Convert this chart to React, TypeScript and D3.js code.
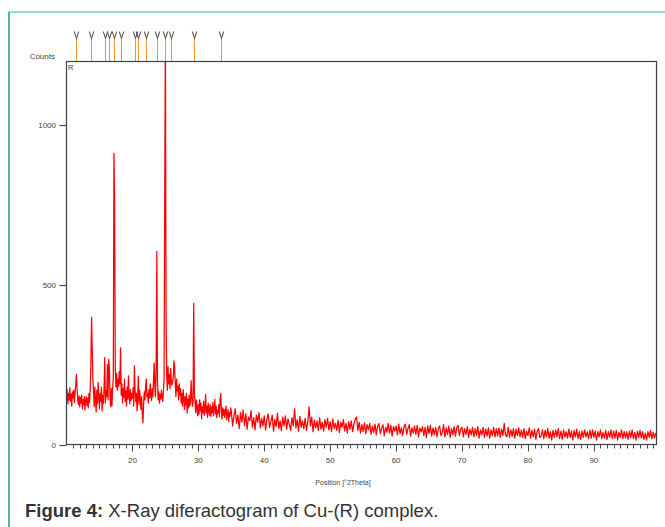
import React from 'react';
import * as d3 from 'd3';

const W = 665;
const H = 527;

// Scan segment A: 10.0° .. 34.9°, step 0.1°
const SEG_A_START = 10.0;
const SEG_A_STEP = 0.1;
const SEG_A_COUNTS = [
  150, 172, 128, 160, 140, 178, 135, 158, 120, 165,
  145, 170, 132, 160, 188, 220, 176, 140, 125, 152,
  118, 148, 130, 155, 112, 140, 125, 150, 108, 138,
  150, 122, 145, 115, 160, 132, 175, 250, 398, 300,
  210, 165, 118, 180, 140, 102, 170, 128, 195, 150,
  112, 160, 135, 180, 105, 155, 128, 175, 272, 130,
  168, 150, 250, 140, 267, 240, 150, 118, 175, 122,
  175, 210, 912, 762, 235, 180, 222, 170, 205, 182,
  228, 190, 303, 155, 190, 130, 175, 148, 205, 135,
  168, 120, 180, 142, 215, 150, 128, 172, 138, 160,
  145, 178, 120, 246, 170, 135, 160, 105, 150, 214,
  125, 170, 140, 110, 150, 95, 68, 128, 165, 140,
  180, 205, 150, 160, 130, 172, 145, 190, 155, 138,
  175, 150, 200, 256, 180, 150, 240, 605, 200, 140,
  165, 130, 158, 142, 170, 150, 135, 165, 205, 780,
  1290, 420, 215, 170, 245, 190, 220, 175, 238, 200,
  185, 200, 210, 262, 245, 190, 150, 205, 168, 182,
  140, 190, 155, 175, 130, 160, 120, 172, 145, 110,
  150, 125, 160, 98, 142, 115, 155, 120, 135, 200,
  150, 120, 135, 442, 160, 130, 100, 140, 115, 90,
  125, 95, 140, 105, 130, 80, 118, 100, 135, 92,
  110, 157, 98, 120, 85, 130, 105, 92, 125, 88,
  118, 100, 132, 90, 112, 141, 96, 120, 85, 108,
  98, 125, 88, 140, 160, 105, 80, 115, 92, 110,
  85, 102, 120, 78, 96, 110, 72, 100, 88, 115,
];

// Scan segment B: 35.0° .. 99.4°, step 0.2°
const SEG_B_START = 35.0;
const SEG_B_STEP = 0.2;
const SEG_B_COUNTS = [
  104, 58, 88, 112, 66,
  92, 50, 100, 70, 108,
  60, 96, 48, 86, 74,
  106, 54, 84, 46, 92,
  70, 100, 52, 82, 58,
  90, 46, 78, 96, 54,
  72, 92, 42, 78, 56,
  98, 50, 74, 44, 86,
  58, 90, 48, 80, 64,
  44, 84, 58, 112, 52,
  78, 42, 88, 54, 74,
  50, 82, 44, 70, 118,
  58, 86, 40, 76, 52,
  74, 44, 84, 48, 70,
  42, 78, 54, 82, 46,
  72, 40, 80, 50, 66,
  44, 76, 38, 70, 54,
  78, 42, 66, 36, 72,
  48, 74, 40, 64, 80,
  86, 44, 70, 36, 62,
  40, 68, 34, 62, 46,
  66, 32, 58, 38, 64,
  30, 58, 66, 34, 52,
  62, 28, 54, 38, 66,
  36, 60, 26, 56, 42,
  58, 30, 64, 34, 52,
  28, 56, 64, 32, 50,
  62, 26, 52, 36, 58,
  32, 60, 24, 52, 40,
  56, 28, 54, 22, 58,
  34, 60, 26, 52, 30,
  54, 24, 50, 58, 28,
  36, 62, 24, 52, 32,
  58, 22, 50, 30, 56,
  26, 52, 60, 28, 48,
  54, 24, 50, 32, 56,
  22, 48, 30, 54, 24,
  50, 28, 56, 20, 46,
  30, 54, 22, 48, 26,
  52, 20, 46, 28, 54,
  24, 50, 26, 52, 22,
  48, 28, 66, 30, 24,
  54, 22, 46, 26, 50,
  20, 48, 28, 52, 24,
  46, 22, 50, 18, 42,
  28, 52, 20, 44, 24,
  48, 16, 42, 50, 22,
  26, 46, 18, 44, 24,
  50, 20, 40, 14, 44,
  22, 46, 24, 50, 18,
  42, 16, 46, 24, 40,
  20, 48, 22, 42, 14,
  44, 24, 48, 18, 40,
  16, 42, 22, 46, 24,
  40, 18, 44, 20, 46,
  22, 42, 14, 40, 24,
  46, 18, 38, 20, 44,
  16, 40, 22, 46, 18,
  42, 20, 44, 14, 38,
  22, 46, 18, 40, 20,
  40, 16, 42, 22, 46,
  18, 38, 14, 42, 22,
  44, 20, 40, 16, 36,
  14, 40, 22, 44, 18,
  38, 20, 36,
];

// Reference peak markers (°2Theta)
const MARKERS = [11.45, 13.76, 15.8, 16.41, 17.17, 18.23, 20.35, 20.89, 22.11, 23.68, 25.0, 25.8, 29.36, 33.38];

const X_DOMAIN: [number, number] = [10, 99.5];
const Y_DOMAIN: [number, number] = [0, 1200];
const X_MAJOR = [20, 30, 40, 50, 60, 70, 80, 90];
const Y_TICKS = [0, 500, 1000];

const FONT = '"Liberation Sans", Arial, Helvetica, sans-serif';

export default function App() {
  const left = 66.5;
  const right = 656.5;
  const top = 61.5;
  const bottom = 444.5;

  const x = d3.scaleLinear().domain(X_DOMAIN).range([left, right]);
  const y = d3.scaleLinear().domain(Y_DOMAIN).range([bottom, top]);

  const data: [number, number][] = [
    ...SEG_A_COUNTS.map((c, i) => [SEG_A_START + i * SEG_A_STEP, c] as [number, number]),
    ...SEG_B_COUNTS.map((c, i) => [SEG_B_START + i * SEG_B_STEP, c] as [number, number]),
  ];

  const line = d3
    .line<[number, number]>()
    .x((d) => x(d[0]))
    .y((d) => y(d[1]));

  const minor = d3.range(11, 100, 1).filter((v) => v % 10 !== 0);

  return (
    <svg
      width={W}
      height={H}
      style={{ position: 'absolute', left: 0, top: 0, display: 'block', background: '#fff' }}
      fontFamily={FONT}
    >
      <defs>
        <clipPath id="plotclip">
          <rect x={left} y={top} width={right - left} height={bottom - top} />
        </clipPath>
      </defs>

      {/* teal page border */}
      <line x1={9} y1={12} x2={W} y2={12} stroke="#62d4bf" strokeWidth={1.6} />
      <line x1={9} y1={12} x2={9} y2={H} stroke="#1fa78b" strokeWidth={1.6} />

      {/* peak markers */}
      {MARKERS.map((m, i) => {
        const px = Math.round(x(m)) + 0.5;
        return (
          <g key={i}>
            <line x1={px} y1={38} x2={px} y2={top} stroke="#f7931e" strokeWidth={1} />
            <path
              d={`M${px - 2.2},31.5 L${px},38.5 L${px + 2.2},31.5`}
              fill="none"
              stroke="#444"
              strokeWidth={1}
            />
          </g>
        );
      })}

      {/* data trace */}
      <g clipPath="url(#plotclip)">
        <path d={line(data) || ''} fill="none" stroke="#ff0000" strokeWidth={1.25} strokeLinejoin="round" />
      </g>

      {/* frame */}
      <rect x={left} y={top} width={right - left} height={bottom - top} fill="none" stroke="#404040" strokeWidth={1.2} />

      {/* x ticks */}
      {minor.map((v) => (
        <line key={'m' + v} x1={Math.round(x(v)) + 0.5} x2={Math.round(x(v)) + 0.5} y1={bottom} y2={bottom + 4} stroke="#444" strokeWidth={1} />
      ))}
      {X_MAJOR.map((v) => (
        <g key={'M' + v}>
          <line x1={Math.round(x(v)) + 0.5} x2={Math.round(x(v)) + 0.5} y1={bottom} y2={bottom + 7} stroke="#444" strokeWidth={1} />
          <text x={x(v)} y={463} textAnchor="middle" fontSize={8} fill="#444">
            {v}
          </text>
        </g>
      ))}

      {/* y ticks */}
      {Y_TICKS.map((v) => (
        <g key={'y' + v}>
          <line x1={left - 7} x2={left} y1={Math.round(y(v)) + 0.5} y2={Math.round(y(v)) + 0.5} stroke="#444" strokeWidth={1.2} />
          <text x={56} y={y(v) + 3} textAnchor="end" fontSize={8} fill="#444">
            {v}
          </text>
        </g>
      ))}

      {/* labels */}
      <text x={55} y={59} textAnchor="end" fontSize={8} fill="#444">Counts</text>
      <text x={68} y={69.5} fontSize={7.5} fill="#333">R</text>
      <text x={343} y={485} textAnchor="middle" fontSize={7} fill="#444">Position [°2Theta]</text>

      {/* caption */}
      <text x={25} y={517} fontSize={18.5} fill="#333">
        <tspan fontWeight="bold">Figure 4:</tspan>
        <tspan> X-Ray diferactogram of Cu-(R) complex.</tspan>
      </text>
    </svg>
  );
}
